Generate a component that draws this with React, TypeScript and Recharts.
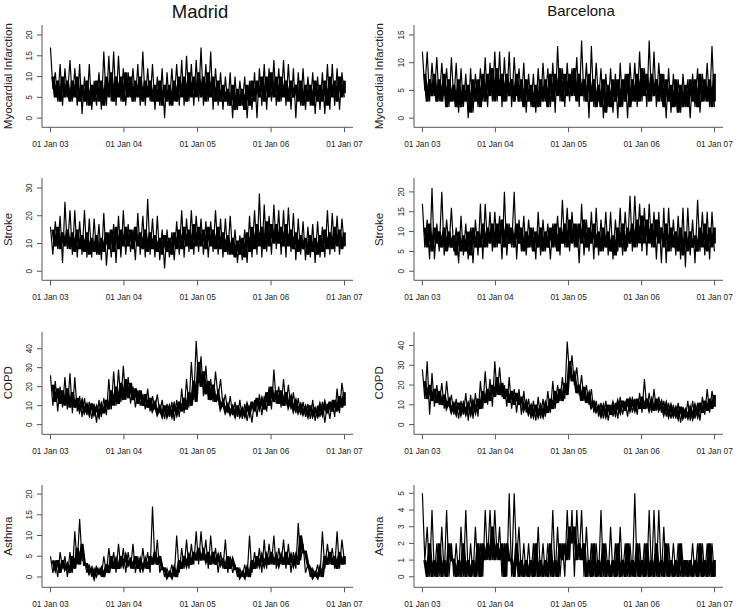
import * as React from "react";
import { ComposedChart, Line, XAxis, YAxis } from "recharts";

const FONT = '"Liberation Sans", Arial, Helvetica, sans-serif';
const AXIS_COLOR = "#555";
const TEXT_COLOR = "#222";

// days since 01 Jan 2003
const DAY_TICKS = [0, 365, 731, 1096, 1461];
const DAY_LABELS = ["01 Jan 03", "01 Jan 04", "01 Jan 05", "01 Jan 06", "01 Jan 07"];
const LAST_DAY = 1460;

const CITIES = ["Madrid", "Barcelona"];
const OUTCOMES = ["Myocardial Infarction", "Stroke", "COPD", "Asthma"];

// daily counts: outer peaks / troughs (~12 days apart)
const madridMI = [
  17, 7, 11, 4, 13, 3, 12, 5, 14, 4, 12, 3, 13, 1, 10, 3, 13, 2, 9, 3, 11, 2, 16, 3, 15, 4, 16, 3, 15, 4,
  12, 3, 11, 5, 12, 4, 13, 3, 16, 3, 12, 4, 13, 2, 10, 3, 12, 0, 11, 3, 12, 4, 13, 3, 14, 3, 15, 4, 13, 3,
  14, 4, 17, 3, 13, 4, 16, 2, 12, 3, 11, 2, 10, 3, 11, 0, 10, 2, 9, 3, 10, 0, 9, 2, 11, 0, 12, 3, 13, 2, 12, 4,
  14, 3, 12, 4, 14, 3, 13, 2, 12, 0, 11, 3, 12, 2, 10, 3, 11, 1, 10, 2, 11, 1, 13, 2, 13, 3, 12, 2, 11, 5,
];
const barcelonaMI = [
  12, 5, 12, 3, 10, 4, 11, 3, 10, 4, 9, 2, 11, 3, 10, 1, 9, 2, 8, 0, 9, 1, 8, 2, 9, 3, 11, 2, 10, 3,
  12, 3, 12, 2, 11, 3, 12, 2, 11, 4, 9, 3, 10, 1, 8, 2, 8, 1, 9, 2, 10, 3, 9, 2, 10, 1, 13, 3, 9, 2,
  10, 3, 9, 4, 11, 2, 14, 3, 10, 0, 13, 2, 10, 3, 9, 0, 8, 2, 9, 1, 8, 0, 10, 2, 8, 0, 10, 3, 10, 2, 12, 3,
  9, 2, 14, 3, 12, 2, 10, 3, 8, 0, 9, 1, 8, 2, 7, 1, 8, 2, 7, 0, 8, 2, 9, 1, 8, 3, 10, 2, 13, 2,
];
const madridStroke = [
  16, 6, 18, 8, 20, 3, 25, 8, 22, 6, 22, 5, 18, 6, 22, 5, 19, 5, 19, 6, 17, 4, 21, 2, 14, 5, 17, 3, 20, 5,
  22, 6, 17, 7, 15, 4, 21, 6, 20, 5, 26, 6, 19, 5, 20, 4, 15, 1, 15, 5, 14, 4, 18, 6, 22, 5, 19, 7, 22, 6,
  20, 7, 19, 6, 18, 5, 18, 7, 22, 6, 19, 5, 19, 6, 20, 6, 15, 3, 13, 4, 15, 3, 20, 5, 22, 6, 28, 5, 24, 7, 20, 6,
  24, 8, 22, 6, 22, 5, 23, 7, 21, 4, 19, 6, 18, 4, 16, 5, 17, 3, 18, 5, 16, 5, 22, 6, 21, 7, 20, 6, 19, 9,
];
const barcelonaStroke = [
  17, 6, 13, 3, 21, 3, 12, 5, 20, 4, 13, 6, 16, 5, 11, 2, 14, 4, 12, 3, 11, 2, 13, 4, 17, 3, 17, 6, 15, 5,
  15, 6, 14, 3, 20, 4, 12, 6, 20, 3, 13, 5, 14, 4, 13, 6, 11, 3, 15, 4, 13, 5, 12, 3, 12, 6, 14, 4, 18, 6,
  16, 5, 15, 6, 12, 2, 17, 4, 13, 5, 15, 3, 16, 4, 13, 5, 15, 4, 15, 3, 13, 5, 16, 4, 15, 6, 19, 5, 19, 6, 17, 5,
  16, 4, 17, 6, 15, 3, 15, 2, 16, 2, 16, 5, 13, 4, 14, 3, 16, 1, 16, 4, 13, 2, 18, 5, 15, 4, 15, 3, 15, 5,
];
const madridCOPD = [
  26, 10, 23, 7, 20, 9, 25, 8, 27, 6, 25, 7, 15, 4, 14, 5, 12, 3, 11, 1, 13, 4, 14, 5, 24, 8, 28, 10, 29, 12,
  31, 13, 25, 11, 20, 9, 18, 10, 16, 8, 19, 7, 15, 8, 16, 6, 13, 3, 11, 4, 12, 2, 13, 4, 19, 6, 24, 9, 33, 13,
  44, 22, 36, 15, 31, 13, 24, 12, 28, 14, 24, 10, 16, 6, 15, 5, 12, 4, 13, 3, 11, 2, 10, 1, 13, 4, 16, 5, 15, 7, 20, 8,
  29, 11, 20, 9, 24, 10, 21, 8, 17, 6, 14, 5, 12, 4, 11, 3, 13, 2, 10, 4, 12, 1, 11, 3, 13, 4, 19, 6, 22, 13,
];
const barcelonaCOPD = [
  28, 13, 32, 5, 26, 9, 20, 10, 21, 8, 22, 9, 15, 5, 13, 3, 12, 5, 16, 2, 15, 3, 16, 4, 22, 8, 27, 10, 23, 9,
  32, 15, 29, 14, 20, 9, 24, 8, 18, 6, 18, 5, 17, 6, 13, 3, 12, 2, 14, 3, 13, 4, 17, 6, 22, 8, 20, 12, 24, 13,
  42, 25, 35, 20, 29, 15, 25, 12, 20, 10, 18, 6, 12, 4, 11, 3, 12, 2, 10, 4, 11, 3, 14, 5, 12, 4, 14, 6, 13, 5, 16, 6,
  23, 8, 16, 6, 18, 7, 14, 6, 12, 4, 11, 3, 10, 3, 11, 1, 9, 3, 12, 2, 12, 3, 11, 2, 14, 5, 18, 6, 17, 10,
];
const madridAsthma = [
  5, 1, 4, 0, 6, 2, 5, 0, 6, 1, 11, 3, 14, 4, 4, 1, 3, 0, 2, 0, 2, 0, 5, 1, 7, 2, 6, 1, 8, 2,
  7, 1, 6, 2, 8, 1, 5, 1, 7, 2, 6, 1, 17, 3, 9, 1, 3, 0, 2, 0, 3, 0, 10, 1, 7, 2, 9, 2, 8, 3,
  11, 3, 11, 4, 9, 2, 10, 3, 7, 1, 6, 2, 9, 1, 5, 1, 3, 0, 2, 0, 3, 0, 10, 1, 6, 2, 7, 1, 9, 2, 8, 3,
  10, 2, 7, 3, 9, 2, 8, 1, 6, 2, 13, 4, 8, 1, 3, 0, 2, 0, 3, 0, 11, 2, 8, 3, 7, 2, 11, 2, 9, 4,
];
const barcelonaAsthma = [
  5, 1, 3, 0, 4, 0, 2, 0, 3, 0, 4, 0, 2, 0, 2, 0, 3, 0, 4, 0, 2, 0, 3, 0, 2, 0, 4, 1, 4, 1,
  4, 1, 3, 0, 2, 0, 5, 0, 5, 1, 3, 0, 2, 0, 2, 0, 2, 0, 3, 0, 2, 0, 2, 0, 4, 0, 3, 0, 2, 0,
  4, 1, 4, 0, 4, 1, 4, 0, 3, 0, 2, 0, 2, 0, 4, 0, 2, 0, 3, 0, 2, 0, 3, 0, 2, 0, 2, 0, 5, 0, 2, 0,
  2, 0, 4, 0, 4, 0, 4, 0, 3, 0, 2, 0, 2, 0, 2, 0, 1, 0, 1, 0, 2, 0, 2, 0, 2, 0, 2, 0, 2, 0,
];

// the dense body of the same daily series (days in between the readings above)
const madridMIBody = [
  10, 5, 9, 4, 10, 5, 9, 4, 9, 5, 10, 4, 8, 4, 9, 3, 8, 4, 9, 4, 9, 3, 10, 5, 11, 4, 10, 5, 10, 4,
  11, 5, 10, 4, 9, 5, 10, 4, 9, 5, 9, 4, 8, 4, 9, 3, 8, 4, 8, 3, 9, 4, 10, 5, 10, 4, 11, 5, 10, 5,
  11, 5, 10, 4, 11, 5, 10, 4, 9, 4, 8, 4, 7, 3, 8, 2, 7, 3, 7, 2, 8, 3, 9, 4, 9, 5, 10, 4, 10, 5, 11, 5,
  10, 4, 10, 5, 9, 4, 9, 5, 8, 4, 9, 3, 8, 4, 8, 3, 9, 4, 8, 4, 9, 3, 10, 5, 9, 4, 10, 5, 9, 6,
];
const barcelonaMIBody = [
  8, 3, 7, 4, 8, 3, 7, 3, 8, 2, 7, 3, 6, 2, 7, 2, 6, 3, 6, 1, 7, 3, 7, 2, 8, 3, 8, 4, 9, 3,
  9, 4, 8, 3, 8, 4, 7, 3, 8, 3, 7, 2, 7, 3, 6, 2, 6, 2, 7, 3, 7, 2, 8, 3, 8, 4, 9, 3, 8, 4,
  8, 4, 9, 3, 8, 4, 7, 3, 8, 3, 7, 2, 6, 2, 7, 1, 6, 2, 7, 3, 7, 2, 7, 3, 8, 2, 7, 3, 8, 3, 9, 4,
  8, 3, 8, 4, 7, 3, 8, 2, 7, 3, 6, 2, 7, 1, 6, 2, 6, 2, 7, 3, 7, 2, 8, 3, 7, 3, 7, 2, 8, 3,
];
const madridStrokeBody = [
  15, 9, 16, 8, 14, 9, 15, 8, 14, 7, 15, 8, 13, 7, 14, 6, 12, 7, 13, 6, 12, 7, 14, 8, 15, 7, 16, 8, 15, 9,
  16, 9, 15, 8, 16, 9, 14, 8, 15, 7, 14, 8, 13, 7, 12, 6, 13, 7, 12, 6, 14, 8, 15, 8, 16, 9, 15, 8, 17, 9,
  16, 9, 15, 8, 16, 9, 15, 8, 16, 8, 14, 7, 13, 6, 12, 5, 11, 6, 12, 5, 14, 7, 16, 8, 17, 9, 16, 8, 18, 9, 17, 10,
  17, 10, 16, 9, 17, 9, 15, 8, 14, 7, 13, 8, 12, 6, 13, 7, 12, 6, 13, 7, 15, 8, 14, 8, 16, 9, 15, 8, 14, 9,
];
const barcelonaStrokeBody = [
  11, 6, 12, 5, 11, 7, 10, 6, 11, 5, 10, 6, 9, 4, 10, 5, 9, 5, 10, 4, 11, 6, 10, 6, 12, 6, 11, 7, 12, 6,
  12, 7, 13, 6, 12, 7, 11, 6, 12, 7, 11, 5, 10, 6, 11, 5, 10, 6, 11, 5, 10, 6, 11, 6, 12, 5, 11, 7, 12, 6,
  13, 7, 12, 6, 12, 7, 13, 6, 11, 7, 12, 6, 10, 5, 11, 6, 10, 5, 9, 4, 11, 6, 12, 5, 11, 7, 12, 6, 13, 7, 14, 7,
  13, 7, 12, 6, 13, 7, 11, 6, 12, 5, 11, 6, 10, 5, 11, 4, 10, 5, 10, 6, 9, 5, 11, 6, 12, 5, 11, 6, 11, 7,
];
const madridCOPDBody = [
  21, 12, 19, 11, 18, 10, 19, 9, 17, 9, 14, 8, 12, 7, 10, 6, 11, 6, 9, 5, 10, 6, 13, 8, 18, 10, 20, 11, 22, 13,
  24, 14, 22, 13, 19, 11, 18, 10, 16, 9, 14, 8, 11, 6, 9, 5, 10, 5, 9, 5, 10, 6, 12, 7, 14, 8, 17, 10, 23, 12,
  33, 20, 28, 16, 23, 13, 21, 12, 16, 9, 12, 7, 10, 6, 9, 5, 10, 5, 8, 5, 10, 6, 12, 7, 14, 9, 13, 8, 17, 10, 20, 12,
  18, 11, 18, 10, 17, 10, 14, 8, 12, 7, 10, 6, 9, 5, 10, 5, 8, 5, 10, 6, 11, 6, 12, 7, 13, 7, 15, 9, 17, 10,
];
const barcelonaCOPDBody = [
  22, 13, 20, 12, 18, 11, 17, 10, 15, 9, 12, 7, 10, 6, 11, 6, 10, 6, 10, 6, 11, 7, 13, 8, 17, 11, 18, 12, 20, 14,
  24, 15, 21, 13, 18, 11, 17, 10, 16, 10, 14, 8, 11, 6, 9, 5, 10, 5, 9, 5, 10, 6, 13, 8, 17, 11, 18, 12, 21, 15,
  32, 22, 25, 16, 20, 12, 19, 11, 15, 9, 11, 7, 9, 5, 9, 5, 10, 5, 10, 6, 11, 7, 12, 7, 13, 8, 12, 8, 13, 8, 14, 8,
  13, 8, 12, 7, 13, 8, 11, 6, 10, 5, 9, 5, 8, 4, 9, 4, 7, 4, 8, 4, 9, 5, 11, 6, 12, 7, 13, 8, 15, 9,
];
const madridAsthmaBody = [
  4, 2, 4, 1, 4, 2, 3, 1, 5, 2, 7, 3, 8, 3, 3, 1, 2, 0, 2, 1, 2, 0, 3, 1, 5, 2, 4, 2, 5, 3,
  5, 3, 4, 2, 5, 2, 4, 2, 4, 2, 5, 3, 6, 3, 5, 2, 2, 0, 1, 0, 2, 0, 4, 2, 5, 3, 5, 3, 6, 4,
  7, 4, 6, 4, 6, 3, 6, 3, 5, 3, 4, 2, 5, 2, 4, 2, 2, 0, 1, 0, 2, 0, 4, 2, 5, 3, 5, 3, 5, 3, 6, 3,
  5, 3, 5, 3, 6, 3, 5, 3, 5, 3, 10, 6, 6, 3, 2, 0, 1, 0, 2, 0, 5, 3, 6, 3, 5, 2, 6, 3, 5, 3,
];
const barcelonaAsthmaBody = [
  1, 0, 2, 0, 1, 0, 2, 0, 1, 0, 2, 1, 1, 0, 1, 0, 2, 0, 1, 0, 1, 0, 2, 0, 2, 1, 2, 1, 3, 1,
  2, 1, 2, 0, 2, 1, 1, 0, 2, 0, 1, 0, 1, 0, 1, 0, 2, 0, 1, 0, 1, 0, 2, 0, 1, 0, 2, 1, 2, 1,
  3, 2, 3, 1, 2, 1, 2, 0, 1, 0, 2, 0, 1, 0, 2, 0, 1, 0, 1, 0, 2, 0, 1, 0, 2, 0, 1, 0, 2, 0, 1, 0,
  2, 0, 1, 0, 2, 0, 1, 0, 2, 0, 1, 0, 1, 0, 2, 0, 1, 0, 1, 0, 1, 0, 2, 0, 1, 0, 2, 0, 1, 0,
];

const Y_TICKS = {
  mi: [0, 5, 10, 15, 20],
  miB: [0, 5, 10, 15],
  stroke: [0, 10, 20, 30],
  strokeB: [0, 5, 10, 15, 20],
  copd: [0, 10, 20, 30, 40],
  asthma: [0, 5, 10, 15, 20],
  asthmaB: [0, 1, 2, 3, 4, 5],
};

// plot boxes (page px)
const COL_LEFT = [42, 414];
const COL_WIDTH = [311, 309];
const ROW_TOP = [25, 178.3, 331.6, 485];
const PLOT_H = 102.3;
const ML = 50;
const MR = 22;
const MT = 6;
const MB = 30;

const panels = [
  { row: 0, col: 0, peaks: madridMI, body: madridMIBody, domain: [-2.2, 22.4], ticks: Y_TICKS.mi },
  { row: 0, col: 1, peaks: barcelonaMI, body: barcelonaMIBody, domain: [-1.65, 16.8], ticks: Y_TICKS.miB },
  { row: 1, col: 0, peaks: madridStroke, body: madridStrokeBody, domain: [-3.25, 33.6], ticks: Y_TICKS.stroke },
  { row: 1, col: 1, peaks: barcelonaStroke, body: barcelonaStrokeBody, domain: [-2.28, 23.5], ticks: Y_TICKS.strokeB },
  { row: 2, col: 0, peaks: madridCOPD, body: madridCOPDBody, domain: [-5.1, 48.8], ticks: Y_TICKS.copd },
  { row: 2, col: 1, peaks: barcelonaCOPD, body: barcelonaCOPDBody, domain: [-4.9, 46.8], ticks: Y_TICKS.copd },
  { row: 3, col: 0, peaks: madridAsthma, body: madridAsthmaBody, domain: [-2.5, 22.2], ticks: Y_TICKS.asthma },
  { row: 3, col: 1, peaks: barcelonaAsthma, body: barcelonaAsthmaBody, domain: [-0.63, 5.5], ticks: Y_TICKS.asthmaB },
];

// body readings sit one step later than the peak readings, so the two zigzags run in antiphase
function buildRows(peaks: number[], body: number[]) {
  const step = LAST_DAY / (peaks.length - 1);
  const rows: any[] = [];
  peaks.forEach((v, i) => rows.push({ day: Math.round(i * step), v }));
  body.forEach((b, i) => rows.push({ day: Math.round(Math.min(i + 1, peaks.length - 1) * step), b }));
  rows.sort((a, b) => a.day - b.day);
  return rows;
}

function Panel({ row, col, peaks, body, domain, ticks }: any) {
  const left = COL_LEFT[col];
  const w = COL_WIDTH[col];
  const top = ROW_TOP[row];
  return (
    <div style={{ position: "absolute", left: left - ML, top: top - MT }}>
      <ComposedChart
        width={w + ML + MR}
        height={PLOT_H + MT + MB}
        data={buildRows(peaks, body)}
        margin={{ top: MT, right: MR, bottom: 0, left: 0 }}
      >
        <XAxis
          dataKey="day"
          type="number"
          domain={[-42, 1503]}
          allowDataOverflow
          ticks={DAY_TICKS}
          interval={0}
          height={MB}
          tickSize={5}
          axisLine={{ stroke: AXIS_COLOR }}
          tickLine={{ stroke: AXIS_COLOR }}
          tick={(p: any) => (
            <text x={p.x} y={p.y + 13} textAnchor="middle" fontSize={8.3} fontFamily={FONT} fill={TEXT_COLOR}>
              {DAY_LABELS[DAY_TICKS.indexOf(p.payload.value)]}
            </text>
          )}
        />
        <YAxis
          type="number"
          domain={domain}
          allowDataOverflow
          ticks={ticks}
          interval={0}
          width={ML}
          tickSize={5}
          axisLine={{ stroke: AXIS_COLOR }}
          tickLine={{ stroke: AXIS_COLOR }}
          tick={(p: any) => (
            <text
              x={p.x - 3}
              y={p.y}
              transform={`rotate(-90 ${p.x - 3} ${p.y})`}
              textAnchor="middle"
              fontSize={8.3}
              fontFamily={FONT}
              fill={TEXT_COLOR}
            >
              {p.payload.value}
            </text>
          )}
        />
        <Line type="linear" dataKey="b" stroke="#000" strokeWidth={3} dot={false} connectNulls isAnimationActive={false} />
        <Line type="linear" dataKey="v" stroke="#000" strokeWidth={1.2} dot={false} connectNulls isAnimationActive={false} />
      </ComposedChart>
    </div>
  );
}

export default function App() {
  const titleX = [200, 581];
  const titleSize = [18.5, 15];
  const titleY = [18, 15.5];
  const labelX = [12, 383];
  return (
    <div style={{ position: "absolute", left: 0, top: 0, width: 740, height: 610, overflow: "hidden", background: "#fff" }}>
      {panels.map((p, i) => (
        <Panel key={i} {...p} />
      ))}
      <svg width={740} height={610} style={{ position: "absolute", left: 0, top: 0, pointerEvents: "none" }}>
        {CITIES.map((c, i) => (
          <text key={c} x={titleX[i]} y={titleY[i]} textAnchor="middle" fontSize={titleSize[i]} fontFamily={FONT} fill="#111">
            {c}
          </text>
        ))}
        {[0, 1].map((col) =>
          OUTCOMES.map((o, r) => {
            const cy = ROW_TOP[r] + PLOT_H / 2;
            return (
              <text
                key={`${col}-${o}`}
                x={labelX[col]}
                y={cy}
                transform={`rotate(-90 ${labelX[col]} ${cy})`}
                textAnchor="middle"
                fontSize={11.5}
                fontFamily={FONT}
                fill={TEXT_COLOR}
              >
                {o}
              </text>
            );
          })
        )}
      </svg>
    </div>
  );
}
